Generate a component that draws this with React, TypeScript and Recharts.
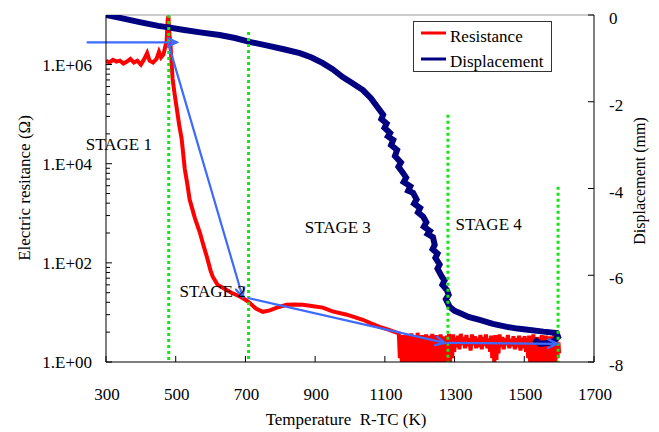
import React from 'react';
import { LineChart, Line, XAxis, YAxis, ReferenceLine, ReferenceDot, Legend } from 'recharts';

// axis ticks
const tempTicks = [300, 500, 700, 900, 1100, 1300, 1500, 1700];
const resMajorTicks = [1, 1e2, 1e4, 1e6];
const resMinorFactors = [2, 3, 4, 5, 6, 7, 8, 9];
const dispTicks = [0, -2, -4, -6, -8];
const legendOrder = ['Resistance', 'Displacement'];

// Resistance (ohm) vs temperature (K)
const resistance = [
  { t: 300, r: 1.2e6 }, { t: 310, r: 1.1e6 }, { t: 320, r: 1.25e6 }, { t: 330, r: 1.15e6 },
  { t: 340, r: 1.2e6 }, { t: 350, r: 1.05e6 }, { t: 360, r: 1.15e6 }, { t: 370, r: 1.3e6 },
  { t: 380, r: 1.1e6 }, { t: 390, r: 1.2e6 }, { t: 400, r: 1.0e6 }, { t: 410, r: 1.3e6 },
  { t: 418, r: 1.7e6 }, { t: 425, r: 1.2e6 }, { t: 435, r: 1.1e6 }, { t: 445, r: 1.3e6 },
  { t: 452, r: 1.8e6 }, { t: 458, r: 1.4e6 }, { t: 465, r: 1.6e6 }, { t: 470, r: 2.3e6 },
  { t: 474, r: 3e6 }, { t: 477, r: 8e6 }, { t: 479, r: 9.5e6 }, { t: 481, r: 5e6 },
  { t: 485, r: 2.5e6 }, { t: 491, r: 5.2e5 }, { t: 497, r: 2.5e5 }, { t: 503, r: 1.3e5 },
  { t: 510, r: 6e4 }, { t: 517, r: 3.2e4 }, { t: 526, r: 7.8e3 }, { t: 533, r: 4e3 },
  { t: 540, r: 1.9e3 }, { t: 555, r: 800 }, { t: 569, r: 414 }, { t: 580, r: 220 },
  { t: 589, r: 135 }, { t: 600, r: 70 }, { t: 606, r: 53 }, { t: 620, r: 36 },
  { t: 640, r: 30 }, { t: 660, r: 25 }, { t: 684, r: 21 }, { t: 700, r: 18 },
  { t: 712, r: 15.7 }, { t: 730, r: 12 }, { t: 750, r: 10.3 }, { t: 770, r: 11 },
  { t: 790, r: 12.5 }, { t: 818, r: 14.3 }, { t: 840, r: 14.5 }, { t: 864, r: 14.3 },
  { t: 890, r: 13.5 }, { t: 922, r: 12.5 }, { t: 950, r: 10.5 }, { t: 991, r: 9 },
  { t: 1037, r: 7.1 }, { t: 1060, r: 6 }, { t: 1085, r: 5.1 }, { t: 1110, r: 4.5 },
  { t: 1130, r: 4 }, { t: 1140, r: 3.8 }, { t: 1143, r: 1.2 }, { t: 1146, r: 3.0 },
  { t: 1149, r: 0.9 }, { t: 1152, r: 3.5 }, { t: 1155, r: 1.5 }, { t: 1158, r: 2.8 },
  { t: 1161, r: 0.9 }, { t: 1164, r: 3.6 }, { t: 1167, r: 1.1 }, { t: 1170, r: 3.2 },
  { t: 1173, r: 0.9 }, { t: 1176, r: 3.8 }, { t: 1179, r: 1.3 }, { t: 1182, r: 2.9 },
  { t: 1185, r: 0.9 }, { t: 1188, r: 3.4 }, { t: 1191, r: 1.0 }, { t: 1194, r: 3.9 },
  { t: 1197, r: 1.4 }, { t: 1200, r: 3.0 }, { t: 1203, r: 0.9 }, { t: 1206, r: 3.5 },
  { t: 1209, r: 1.2 }, { t: 1212, r: 3.3 }, { t: 1215, r: 0.9 }, { t: 1218, r: 3.6 },
  { t: 1221, r: 1.0 }, { t: 1224, r: 3.1 }, { t: 1227, r: 1.3 }, { t: 1230, r: 3.4 },
  { t: 1233, r: 0.9 }, { t: 1236, r: 3.7 }, { t: 1239, r: 1.1 }, { t: 1242, r: 3.2 },
  { t: 1245, r: 1.0 }, { t: 1248, r: 3.5 }, { t: 1251, r: 1.2 }, { t: 1254, r: 3.0 },
  { t: 1257, r: 0.9 }, { t: 1260, r: 3.6 }, { t: 1263, r: 1.1 }, { t: 1266, r: 3.3 },
  { t: 1269, r: 0.9 }, { t: 1272, r: 3.1 }, { t: 1275, r: 1.4 }, { t: 1278, r: 3.4 },
  { t: 1281, r: 0.9 }, { t: 1284, r: 3.7 }, { t: 1287, r: 1.0 }, { t: 1290, r: 3.2 },
  { t: 1293, r: 1.2 }, { t: 1296, r: 3.6 }, { t: 1299, r: 1.6 }, { t: 1302, r: 3.1 },
  { t: 1306, r: 2.0 }, { t: 1310, r: 3.4 }, { t: 1314, r: 1.8 }, { t: 1318, r: 3.7 },
  { t: 1322, r: 2.2 }, { t: 1326, r: 3.2 }, { t: 1330, r: 1.9 }, { t: 1334, r: 3.5 },
  { t: 1338, r: 2.1 }, { t: 1342, r: 3.0 }, { t: 1346, r: 1.7 }, { t: 1350, r: 3.6 },
  { t: 1354, r: 2.2 }, { t: 1358, r: 3.3 }, { t: 1362, r: 1.9 }, { t: 1366, r: 3.1 },
  { t: 1370, r: 2.0 }, { t: 1374, r: 3.5 }, { t: 1378, r: 1.8 }, { t: 1382, r: 3.2 },
  { t: 1386, r: 2.1 }, { t: 1390, r: 3.6 }, { t: 1394, r: 1.9 }, { t: 1398, r: 3.0 },
  { t: 1402, r: 1.6 }, { t: 1405, r: 3.4 }, { t: 1408, r: 1.2 }, { t: 1411, r: 3.1 },
  { t: 1414, r: 0.9 }, { t: 1417, r: 3.5 }, { t: 1420, r: 1.1 }, { t: 1423, r: 3.0 },
  { t: 1426, r: 1.5 }, { t: 1429, r: 3.6 }, { t: 1433, r: 2.0 }, { t: 1437, r: 3.2 },
  { t: 1441, r: 1.8 }, { t: 1445, r: 3.0 }, { t: 1449, r: 2.2 }, { t: 1453, r: 3.5 },
  { t: 1457, r: 1.9 }, { t: 1461, r: 2.9 }, { t: 1465, r: 2.1 }, { t: 1469, r: 3.3 },
  { t: 1473, r: 1.8 }, { t: 1477, r: 3.0 }, { t: 1481, r: 2.0 }, { t: 1485, r: 3.4 },
  { t: 1489, r: 1.7 }, { t: 1493, r: 3.1 }, { t: 1497, r: 1.9 }, { t: 1501, r: 3.3 },
  { t: 1505, r: 1.6 }, { t: 1508, r: 3.0 }, { t: 1511, r: 1.2 }, { t: 1514, r: 3.4 },
  { t: 1517, r: 0.9 }, { t: 1520, r: 3.1 }, { t: 1523, r: 1.0 }, { t: 1526, r: 3.6 },
  { t: 1529, r: 1.3 }, { t: 1532, r: 2.9 }, { t: 1535, r: 0.9 }, { t: 1538, r: 3.2 },
  { t: 1541, r: 1.1 }, { t: 1544, r: 3.0 }, { t: 1547, r: 0.9 }, { t: 1550, r: 3.5 },
  { t: 1553, r: 1.2 }, { t: 1556, r: 3.1 }, { t: 1559, r: 0.9 }, { t: 1562, r: 3.4 },
  { t: 1565, r: 1.0 }, { t: 1568, r: 3.0 }, { t: 1571, r: 1.3 }, { t: 1574, r: 3.3 },
  { t: 1577, r: 0.9 }, { t: 1580, r: 3.1 }, { t: 1583, r: 1.1 }, { t: 1586, r: 3.5 },
  { t: 1589, r: 0.9 }, { t: 1592, r: 3.0 }, { t: 1595, r: 1.2 }, { t: 1598, r: 2.5 },
  { t: 1600, r: 1.5 },
];

// Displacement (mm) vs temperature (K); curls back at the end
const displacement = [
  { t: 300, d: 0 }, { t: 330, d: -0.05 }, { t: 360, d: -0.1 }, { t: 400, d: -0.17 },
  { t: 425, d: -0.21 }, { t: 450, d: -0.25 }, { t: 474, d: -0.28 }, { t: 520, d: -0.34 },
  { t: 570, d: -0.4 }, { t: 626, d: -0.46 }, { t: 670, d: -0.53 }, { t: 712, d: -0.62 },
  { t: 760, d: -0.7 }, { t: 810, d: -0.79 }, { t: 856, d: -0.88 }, { t: 890, d: -0.98 },
  { t: 922, d: -1.11 }, { t: 950, d: -1.25 }, { t: 979, d: -1.43 }, { t: 1005, d: -1.56 },
  { t: 1037, d: -1.73 }, { t: 1060, d: -1.92 }, { t: 1085, d: -2.19 }, { t: 1095, d: -2.3 },
  { t: 1090, d: -2.4 }, { t: 1105, d: -2.5 }, { t: 1099, d: -2.6 }, { t: 1115, d: -2.72 },
  { t: 1109, d: -2.8 }, { t: 1124, d: -2.88 }, { t: 1118, d: -3.0 }, { t: 1135, d: -3.11 },
  { t: 1129, d: -3.25 }, { t: 1146, d: -3.4 }, { t: 1139, d: -3.5 }, { t: 1152, d: -3.64 },
  { t: 1161, d: -3.75 }, { t: 1154, d: -3.85 }, { t: 1173, d: -3.95 }, { t: 1167, d: -4.05 },
  { t: 1181, d: -4.1 }, { t: 1191, d: -4.25 }, { t: 1184, d: -4.35 }, { t: 1201, d: -4.45 },
  { t: 1195, d: -4.55 }, { t: 1210, d: -4.65 }, { t: 1219, d: -4.78 }, { t: 1212, d: -4.88 },
  { t: 1229, d: -4.98 }, { t: 1223, d: -5.05 }, { t: 1238, d: -5.12 }, { t: 1243, d: -5.3 },
  { t: 1237, d: -5.4 }, { t: 1251, d: -5.5 }, { t: 1245, d: -5.6 }, { t: 1257, d: -5.75 },
  { t: 1251, d: -5.85 }, { t: 1264, d: -6.04 }, { t: 1271, d: -6.12 }, { t: 1265, d: -6.22 },
  { t: 1278, d: -6.34 }, { t: 1283, d: -6.45 }, { t: 1275, d: -6.55 }, { t: 1286, d: -6.73 },
  { t: 1300, d: -6.82 }, { t: 1315, d: -6.87 }, { t: 1340, d: -6.96 }, { t: 1372, d: -7.03 },
  { t: 1410, d: -7.12 }, { t: 1450, d: -7.19 }, { t: 1480, d: -7.23 }, { t: 1516, d: -7.26 },
  { t: 1555, d: -7.3 }, { t: 1593, d: -7.33 }, { t: 1597, d: -7.42 }, { t: 1580, d: -7.55 },
  { t: 1545, d: -7.58 }, { t: 1528, d: -7.48 },
];

// green dotted stage boundaries: temperature and top end (mm)
const stageLines = [
  { t: 480, top: 0 },
  { t: 709, top: -0.39 },
  { t: 1281, top: -2.3 },
  { t: 1597, top: -3.96 },
];

// blue arrows, in temperature / displacement units
const arrows = [
  { t1: 247, d1: -0.63, t2: 503, d2: -0.63 },
  { t1: 480, d1: -0.69, t2: 692, d2: -6.5 },
  { t1: 710, d1: -6.53, t2: 1272, d2: -7.56 },
  { t1: 1280, d1: -7.56, t2: 1594, d2: -7.58 },
];

const stageLabels = [
  { label: 'STAGE 1', t: 242, d: -3.11 },
  { label: 'STAGE 2', t: 511, d: -6.5 },
  { label: 'STAGE 3', t: 870, d: -5.02 },
  { label: 'STAGE 4', t: 1303, d: -4.95 },
];

const FONT = 'Liberation Serif, Times New Roman, serif';
const FS = 17;
const PLOT_L = 106;
const PLOT_R = 594;
const PLOT_B = 362;

const resMinorTicks = resMajorTicks.slice(0, 3).flatMap((m) => resMinorFactors.map((k) => m * k * k));
const resTicks = [...resMajorTicks, ...resMinorTicks].sort((a, b) => a - b);

const fmtSci = (v: number) => '1.E+' + String(Math.round(Math.log10(v))).padStart(2, '0');

const LeftTick = (props: any) => {
  const { y, payload } = props;
  const major = resMajorTicks.includes(payload.value);
  return (
    <g>
      <line x1={PLOT_L} x2={PLOT_L + (major ? 6 : 4)} y1={y} y2={y} stroke="#000" strokeWidth={1} />
      {major && (
        <text x={92} y={y + 6} textAnchor="end" fontFamily={FONT} fontSize={FS} fill="#000">
          {fmtSci(payload.value)}
        </text>
      )}
    </g>
  );
};

const RightTick = (props: any) => {
  const { y, payload } = props;
  return (
    <g>
      <line x1={PLOT_R - 6} x2={PLOT_R} y1={y} y2={y} stroke="#000" strokeWidth={1} />
      <text x={609} y={y + 9} textAnchor="start" fontFamily={FONT} fontSize={FS} fill="#000">
        {payload.value}
      </text>
    </g>
  );
};

const BottomTick = (props: any) => {
  const { x, payload } = props;
  return (
    <g>
      <line x1={x} x2={x} y1={PLOT_B} y2={PLOT_B - 6} stroke="#000" strokeWidth={1} />
      <text x={x + 1} y={400} textAnchor="middle" fontFamily={FONT} fontSize={FS} fill="#000">
        {payload.value}
      </text>
    </g>
  );
};

const Arrow = (props: any) => {
  const { x1, y1, x2, y2 } = props;
  const a = Math.atan2(y2 - y1, x2 - x1);
  const len = 10;
  const spread = 0.45;
  const p1 = [x2 - len * Math.cos(a - spread), y2 - len * Math.sin(a - spread)];
  const p2 = [x2 - len * Math.cos(a + spread), y2 - len * Math.sin(a + spread)];
  return (
    <g stroke="#3D6BFF" strokeWidth={2.2} fill="none" strokeLinecap="round">
      <line x1={x1} y1={y1} x2={x2} y2={y2} />
      <polyline points={`${p1[0]},${p1[1]} ${x2},${y2} ${p2[0]},${p2[1]}`} />
    </g>
  );
};

const renderLegend = (props: any) => {
  const items = [...(props.payload || [])].sort(
    (a: any, b: any) => legendOrder.indexOf(a.value) - legendOrder.indexOf(b.value)
  );
  return (
    <div style={{ width: 139, height: 51, border: '1px solid #333', boxSizing: 'border-box', background: '#fff' }}>
      <svg width={137} height={49}>
        {items.map((it: any, i: number) => (
          <g key={i}>
            <line x1={7} x2={32} y1={11 + i * 26} y2={11 + i * 26} stroke={it.color} strokeWidth={3} />
            <text x={36} y={20 + i * 25} fontFamily={FONT} fontSize={FS} fill="#000">
              {it.value}
            </text>
          </g>
        ))}
      </svg>
    </div>
  );
};

export default function App() {
  return (
    <div style={{ position: 'absolute', left: 0, top: 0, background: '#fff' }}>
      <LineChart width={659} height={432} margin={{ top: 15, right: 0, bottom: 0, left: 0 }}>
        <XAxis
          dataKey="t"
          type="number"
          domain={[300, 1700]}
          ticks={tempTicks}
          interval={0}
          allowDataOverflow
          height={70}
          tickLine={false}
          axisLine={{ stroke: '#000' }}
          tick={BottomTick}
          label={() => (
            <text x={346} y={425} textAnchor="middle" fontFamily={FONT} fontSize={FS} fill="#000">
              {'Temperature\u00a0 R-TC (K)'}
            </text>
          )}
        />
        <YAxis
          yAxisId="left"
          scale="log"
          domain={[1, 1e7]}
          ticks={resTicks}
          interval={0}
          allowDataOverflow
          width={106}
          tickLine={false}
          axisLine={{ stroke: '#000' }}
          tick={LeftTick}
          label={() => (
            <text
              x={24}
              y={188}
              transform="rotate(-90 24 188)"
              dy={6}
              textAnchor="middle"
              fontFamily={FONT}
              fontSize={FS}
              fill="#000"
            >
              Electric resitance (Ω)
            </text>
          )}
        />
        <YAxis
          yAxisId="right"
          orientation="right"
          domain={[-8, 0]}
          ticks={dispTicks}
          interval={0}
          allowDataOverflow
          width={65}
          tickLine={false}
          axisLine={{ stroke: '#000' }}
          tick={RightTick}
          label={() => (
            <text
              x={639}
              y={181}
              transform="rotate(-90 639 181)"
              dy={6}
              textAnchor="middle"
              fontFamily={FONT}
              fontSize={16}
              fill="#000"
            >
              Displacement (mm)
            </text>
          )}
        />
        <ReferenceLine yAxisId="right" y={0} stroke="#999" strokeWidth={1} />
        <Line
          yAxisId="left"
          data={resistance}
          dataKey="r"
          name="Resistance"
          stroke="#FF0000"
          strokeWidth={4}
          dot={false}
          isAnimationActive={false}
        />
        <Line
          yAxisId="right"
          data={displacement}
          dataKey="d"
          name="Displacement"
          stroke="#000080"
          strokeWidth={6}
          dot={false}
          isAnimationActive={false}
        />
        {stageLines.map((s, i) => (
          <ReferenceLine
            key={'g' + i}
            yAxisId="right"
            segment={[{ x: s.t, y: s.top }, { x: s.t, y: -8 }]}
            stroke="#14E614"
            strokeWidth={3}
            strokeDasharray="3 3"
            ifOverflow="visible"
          />
        ))}
        {arrows.map((a, i) => (
          <ReferenceLine
            key={'a' + i}
            yAxisId="right"
            segment={[{ x: a.t1, y: a.d1 }, { x: a.t2, y: a.d2 }]}
            ifOverflow="visible"
            shape={Arrow}
          />
        ))}
        {stageLabels.map((s, i) => (
          <ReferenceDot
            key={'s' + i}
            yAxisId="right"
            x={s.t}
            y={s.d}
            r={1}
            ifOverflow="visible"
            shape={(p: any) => (
              <text x={p.cx} y={p.cy} fontFamily={FONT} fontSize={FS} fill="#000">
                {s.label}
              </text>
            )}
          />
        ))}
        <Legend
          layout="vertical"
          verticalAlign="middle"
          align="center"
          content={renderLegend}
          wrapperStyle={{ position: 'absolute', top: 21, left: 413, width: 139, height: 51 }}
        />
      </LineChart>
    </div>
  );
}
